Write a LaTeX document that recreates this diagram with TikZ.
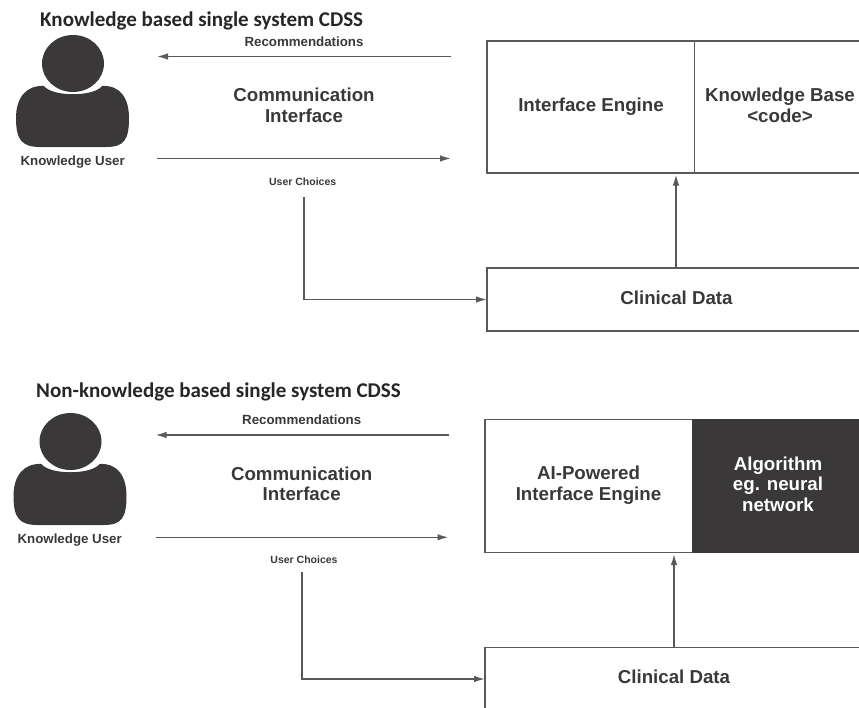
\documentclass[tikz,border=0pt]{standalone}
\usepackage{fontspec}
\setmainfont{Liberation Sans}
\newfontfamily\titlefont{Carlito}
\usetikzlibrary{arrows.meta}
\definecolor{ink}{HTML}{3A3838}
\definecolor{linec}{HTML}{5A5858}
\tikzset{
 x=1pt,y=1pt,
 sysbox/.style={draw=linec,line width=1.5pt,fill=white,outer sep=0pt,inner sep=0pt,minimum width=378pt,anchor=north west},
 conn/.style={draw=linec,line width=1.5pt,-{Latex[length=11pt,width=6.5pt]}},
 plain/.style={draw=linec,line width=1.5pt},
 big/.style={font=\bfseries\fontsize{18.7}{20.5}\selectfont,text=ink,align=center,inner sep=0pt},
 small/.style={font=\bfseries\fontsize{13.3}{15}\selectfont,text=ink,align=center,inner sep=0pt},
 tinylab/.style={font=\bfseries\fontsize{10.5}{12}\selectfont,text=ink,align=center,inner sep=0pt},
 ttl/.style={font=\titlefont\bfseries\fontsize{21}{24}\selectfont,text=black!85,anchor=base west,inner sep=0pt},
}
\newcommand{\personicon}[2]{%
 \begin{scope}[shift={(#1,#2)}]
  \fill[ink] (73,-63.5) circle[x radius=31,y radius=28.5];
  \fill[ink] (44,-86) .. controls (52,-97) and (94,-97) .. (102,-86)
    .. controls (120,-85) and (129,-98) .. (129,-118)
    .. controls (129,-140) and (124,-147) .. (106,-147) -- (40,-147)
    .. controls (22,-147) and (16,-140) .. (16,-118)
    .. controls (16,-98) and (26,-85) .. (44,-86) -- cycle;
 \end{scope}}
\begin{document}
\begin{tikzpicture}
\useasboundingbox (0,0) rectangle (859,-707);
\clip (0,0) rectangle (859,-707);
% top panel
\node[ttl] (t1) at (40,-26) {Knowledge based single system CDSS};
\personicon{0}{0}
\node[small] (u1) at (72.7,-162) {Knowledge User};
\node[small] (r1) at (304,-41.7) {Recommendations};
\node[big] (ci1) at (304,-105.3) {Communication\\Interface};
\node[tinylab] (c1) at (302.7,-181.7) {User Choices};
\coordinate (a1s) at (451,-56.5); \coordinate (a1e) at (157,-56.5);
\coordinate (b1s) at (157,-158.5); \coordinate (b1e) at (451,-158.5);
\draw[conn] (a1s) -- (a1e);
\draw[conn] (b1s) -- (b1e);
\node[sysbox,minimum height=132pt] (sys1) at (487,-41) {};
\coordinate (div1t) at (694.5,-41); \coordinate (div1b) at (694.5,-173);
\draw[plain] (div1t) -- (div1b);
\node[big] (ie1) at (591,-106.5) {Interface Engine};
\node[big] (kb1) at (780,-105.3) {Knowledge Base\\<code>};
\node[sysbox,minimum height=63pt] (cd1) at (487,-268) {};
\node[big] (d1) at (676.5,-297.5) {Clinical Data};
\draw[conn,shorten >=1.5pt] (cd1.north) -- (sys1.south);
\coordinate (c1s) at (304,-197);
\draw[conn] (c1s) |- (cd1.west);
% bottom panel
\node[ttl] (t2) at (36,-397) {Non-knowledge based single system CDSS};
\personicon{-2.5}{-378}
\node[small] (u2) at (69.7,-540) {Knowledge User};
\node[small] (r2) at (301.7,-419.7) {Recommendations};
\node[big] (ci2) at (301.7,-484) {Communication\\Interface};
\node[tinylab] (c2) at (304,-559.3) {User Choices};
\coordinate (a2s) at (449,-435); \coordinate (a2e) at (155.5,-435);
\coordinate (b2s) at (155.5,-537.3); \coordinate (b2e) at (448.5,-537.3);
\draw[conn] (a2s) -- (a2e);
\draw[conn] (b2s) -- (b2e);
\node[sysbox,minimum height=133pt] (sys2) at (485,-419.5) {};
\fill[ink] (692,-419) rectangle (863,-552.9);
\node[big] (ie2) at (588.5,-485) {AI-Powered\\Interface Engine};
\node[big,text=white] (al) at (778,-484) {Algorithm\\eg. neural\\network};
\node[sysbox,minimum height=63pt] (cd2) at (485,-647.5) {};
\node[big] (d2) at (674,-677) {Clinical Data};
\draw[conn,shorten >=1.5pt] (cd2.north) -- (sys2.south);
\coordinate (c2s) at (302,-572);
\draw[conn] (c2s) |- (cd2.west);
\end{tikzpicture}
\end{document}
